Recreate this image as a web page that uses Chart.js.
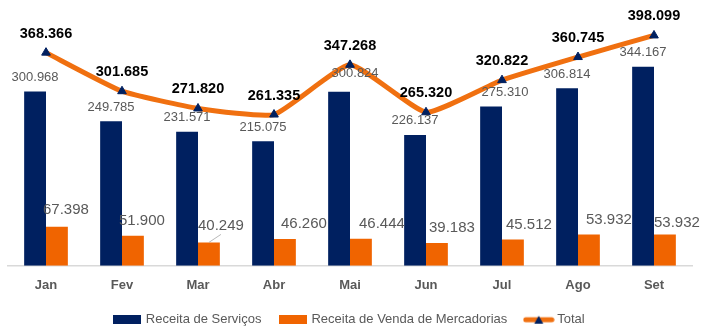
<!DOCTYPE html>
<html>
<head>
<meta charset="utf-8">
<script src="https://cdn.jsdelivr.net/npm/chart.js@4"></script>
<style>
  html, body { margin: 0; padding: 0; background: #fff; }
  #wrap { width: 701px; height: 327px; }
</style>
</head>
<body>
<div id="wrap"><canvas id="receitas"></canvas></div>
<script>
// =========================
// dados (mil R$)
// =========================
const meses = ["Jan", "Fev", "Mar", "Abr", "Mai", "Jun", "Jul", "Ago", "Set"];
const servicos = [300.968, 249.785, 231.571, 215.075, 300.824, 226.137, 275.310, 306.814, 344.167];
const mercadorias = [67.398, 51.9, 40.249, 46.26, 46.444, 39.183, 45.512, 53.932, 53.932];
const total = [368.366, 301.685, 271.82, 261.335, 347.268, 265.32, 320.822, 360.745, 398.099];

// rótulos deslocados à mão (dx, dy em px)
const ajusteServicos = [[0, 0], [0, 0], [0, 0], [0, 0], [16, -4], [0, 0], [14, 0], [0, 0], [0, 0]];
const ajusteMercadorias = [[9, -2], [9, 0], [12, -2], [19, 0], [21, 0], [15, 0], [16, 0], [20, 0], [12, 3]];

const AZUL = "#002060";
const LARANJA = "#F06400";
const LINHA = "#F07010";
const CINZA = "#595959";
const FONTE = "'Liberation Sans', Arial, sans-serif";

// formato pt-BR com 3 casas
const fmt = (v) => v.toFixed(3);

// =========================
// ícones da legenda
// =========================
function iconeBox(cor) {
  const c = document.createElement("canvas");
  c.width = 28;
  c.height = 9;
  const g = c.getContext("2d");
  g.fillStyle = cor;
  g.fillRect(0, 0, 28, 9);
  return c;
}

function iconeLinha() {
  const c = document.createElement("canvas");
  c.width = 32;
  c.height = 10;
  const g = c.getContext("2d");
  g.strokeStyle = LINHA;
  g.lineWidth = 5;
  g.lineCap = "round";
  g.beginPath();
  g.moveTo(3, 5);
  g.lineTo(29, 5);
  g.stroke();
  g.fillStyle = AZUL;
  g.beginPath();
  g.moveTo(16, 1);
  g.lineTo(20.5, 9);
  g.lineTo(11.5, 9);
  g.closePath();
  g.fill();
  return c;
}

// =========================
// rótulos de dados
// =========================
const rotulos = {
  id: "rotulos",
  afterDatasetsDraw(chart) {
    const ctx = chart.ctx;
    ctx.save();
    ctx.textAlign = "center";
    ctx.textBaseline = "middle";

    // receita de serviços
    ctx.fillStyle = CINZA;
    ctx.font = "13px " + FONTE;
    chart.getDatasetMeta(0).data.forEach((bar, i) => {
      const [dx, dy] = ajusteServicos[i];
      ctx.fillText(fmt(servicos[i]), bar.x + dx, bar.y - 14 + dy);
    });

    // venda de mercadorias
    ctx.font = "15px " + FONTE;
    chart.getDatasetMeta(1).data.forEach((bar, i) => {
      const [dx, dy] = ajusteMercadorias[i];
      const lx = bar.x + dx;
      const ly = bar.y - 15 + dy;
      ctx.fillText(fmt(mercadorias[i]), lx, ly);
      // linha de chamada quando o rótulo se afasta
      if (i === 2) {
        ctx.strokeStyle = "#A6A6A6";
        ctx.lineWidth = 0.8;
        ctx.beginPath();
        ctx.moveTo(lx, ly + 9);
        ctx.lineTo(bar.x, bar.y);
        ctx.stroke();
      }
    });

    // total
    ctx.fillStyle = "#000";
    ctx.font = "bold 14.5px " + FONTE;
    chart.getDatasetMeta(2).data.forEach((pt, i) => {
      ctx.fillText(fmt(total[i]), pt.x, pt.y - 19);
    });
    ctx.restore();
  },
};

// =========================
// gráfico
// =========================
new Chart(document.getElementById("receitas"), {
  type: "bar",
  data: {
    labels: meses,
    datasets: [
      {
        label: "Receita de Serviços",
        data: servicos,
        backgroundColor: AZUL,
        categoryPercentage: 0.575,
        barPercentage: 1.0,
        order: 2,
      },
      {
        label: "Receita de Venda de Mercadorias",
        data: mercadorias,
        backgroundColor: LARANJA,
        categoryPercentage: 0.575,
        barPercentage: 1.0,
        order: 2,
      },
      {
        type: "line",
        label: "Total",
        data: total,
        borderColor: LINHA,
        borderWidth: 5,
        tension: 0.15,
        pointStyle: "triangle",
        pointRadius: 5,
        pointBackgroundColor: AZUL,
        pointBorderColor: AZUL,
        pointBorderWidth: 1,
        order: 1,
      },
    ],
  },
  options: {
    responsive: true,
    maintainAspectRatio: false,
    animation: false,
    layout: { padding: { top: 0, left: 8, right: 9, bottom: -9.2 } },
    scales: {
      x: {
        grid: { display: false, drawTicks: false },
        border: { display: true, color: "#D9D9D9", width: 1.5 },
        ticks: {
          color: CINZA,
          font: { family: FONTE, size: 13, weight: "bold", lineHeight: 1.1 },
          padding: 13,
        },
        // altura fixa do eixo para a legenda ficar logo abaixo
        afterFit: (scale) => {
          scale.height = 28;
        },
      },
      y: {
        display: false,
        min: 0,
        max: 449,
      },
    },
    plugins: {
      tooltip: { enabled: false },
      legend: {
        position: "bottom",
        labels: {
          color: CINZA,
          font: { family: FONTE, size: 13 },
          usePointStyle: true,
          pointStyleWidth: 24,
          boxHeight: 9,
          padding: 19.5,
          generateLabels: () => [
            { text: "Receita de Serviços", pointStyle: iconeBox(AZUL), fontColor: CINZA, lineWidth: 0, datasetIndex: 0 },
            { text: "Receita de Venda de Mercadorias", pointStyle: iconeBox(LARANJA), fontColor: CINZA, lineWidth: 0, datasetIndex: 1 },
            { text: "Total", pointStyle: iconeLinha(), fontColor: CINZA, lineWidth: 0, datasetIndex: 2 },
          ],
        },
      },
    },
  },
  plugins: [rotulos],
});
</script>
</body>
</html>
